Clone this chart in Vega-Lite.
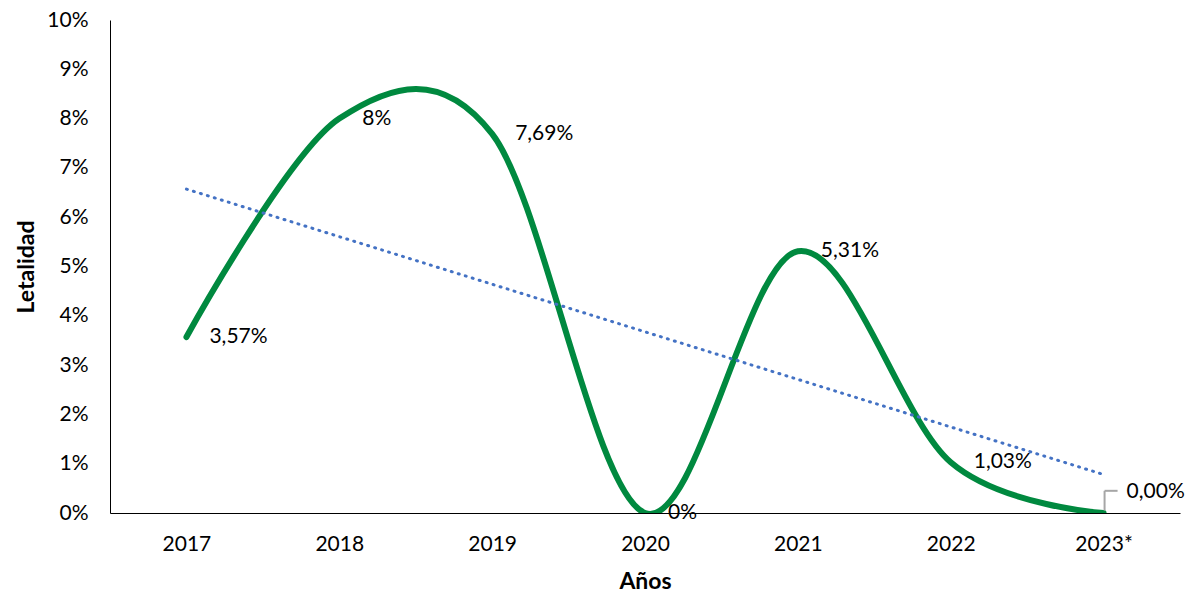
{
  "$schema": "https://vega.github.io/schema/vega-lite/v6.json",
  "width": 1070,
  "height": 493,
  "autosize": {"type": "none"},
  "padding": {"left": 110, "top": 20, "right": 7, "bottom": 80},
  "background": "white",
  "config": {
    "view": {"stroke": null},
    "font": "Lato",
    "axis": {
      "grid": false,
      "ticks": false,
      "domainColor": "#000000",
      "domainWidth": 1,
      "labelFont": "Lato",
      "labelFontSize": 21,
      "labelColor": "#000000",
      "titleFont": "Lato",
      "titleFontSize": 23,
      "titleFontWeight": "bold",
      "titleColor": "#000000"
    }
  },
  "datasets": {
    "serie": [
      {"anio": "2017", "letalidad": 3.57, "etiqueta": "3,57%"},
      {"anio": "2018", "letalidad": 8.0, "etiqueta": "8%"},
      {"anio": "2019", "letalidad": 7.69, "etiqueta": "7,69%"},
      {"anio": "2020", "letalidad": 0.0, "etiqueta": "0%"},
      {"anio": "2021", "letalidad": 5.31, "etiqueta": "5,31%"},
      {"anio": "2022", "letalidad": 1.03, "etiqueta": "1,03%"},
      {"anio": "2023*", "letalidad": 0.0, "etiqueta": "0,00%"}
    ],
    "tendencia": [
      {"anio": "2017", "tendencia": 6.57},
      {"anio": "2023*", "tendencia": 0.78}
    ]
  },
  "layer": [
    {
      "data": {"name": "serie"},
      "mark": {"type": "line", "interpolate": "cardinal", "color": "#00893F", "strokeWidth": 6, "strokeCap": "round", "clip": true},
      "encoding": {
        "x": {
          "field": "anio", "type": "ordinal",
          "scale": {"type": "point", "padding": 0.5},
          "axis": {"title": "Años", "labelAngle": 0, "labelPadding": 20, "titlePadding": 16}
        },
        "y": {
          "field": "letalidad", "type": "quantitative",
          "scale": {"domain": [0, 10], "nice": false},
          "axis": {"title": "Letalidad", "values": [0, 1, 2, 3, 4, 5, 6, 7, 8, 9, 10], "labelExpr": "datum.value + '%'", "labelPadding": 22, "titlePadding": 8}
        }
      }
    },
    {
      "data": {"name": "tendencia"},
      "mark": {"type": "line", "color": "#4472C4", "strokeWidth": 3, "strokeDash": [1, 6.3], "strokeCap": "round"},
      "encoding": {
        "x": {"field": "anio", "type": "ordinal"},
        "y": {"field": "tendencia", "type": "quantitative"}
      }
    },
    {
      "data": {"name": "serie"},
      "transform": [{"filter": "datum.anio != '2023*'"}],
      "mark": {"type": "text", "align": "left", "baseline": "middle", "dx": 23, "fontSize": 21, "color": "#000000", "font": "Lato"},
      "encoding": {
        "x": {"field": "anio", "type": "ordinal"},
        "y": {"field": "letalidad", "type": "quantitative"},
        "text": {"field": "etiqueta"}
      }
    },
    {
      "data": {"name": "serie"},
      "transform": [{"filter": "datum.anio == '2023*'"}],
      "mark": {"type": "text", "align": "left", "baseline": "middle", "dx": 23, "dy": -21, "fontSize": 21, "color": "#000000", "font": "Lato"},
      "encoding": {
        "x": {"field": "anio", "type": "ordinal"},
        "y": {"field": "letalidad", "type": "quantitative"},
        "text": {"field": "etiqueta"}
      }
    },
    {
      "data": {"name": "serie"},
      "transform": [{"filter": "datum.anio == '2023*'"}],
      "mark": {"type": "rule", "color": "#A6A6A6", "strokeWidth": 2, "xOffset": 1},
      "encoding": {
        "x": {"field": "anio", "type": "ordinal"},
        "y": {"datum": 0.05},
        "y2": {"datum": 0.45}
      }
    },
    {
      "data": {"name": "serie"},
      "transform": [{"filter": "datum.anio == '2023*'"}],
      "mark": {"type": "rule", "color": "#A6A6A6", "strokeWidth": 2, "xOffset": 1, "x2Offset": 14},
      "encoding": {
        "x": {"field": "anio", "type": "ordinal"},
        "x2": {"field": "anio"},
        "y": {"datum": 0.45}
      }
    }
  ]
}
